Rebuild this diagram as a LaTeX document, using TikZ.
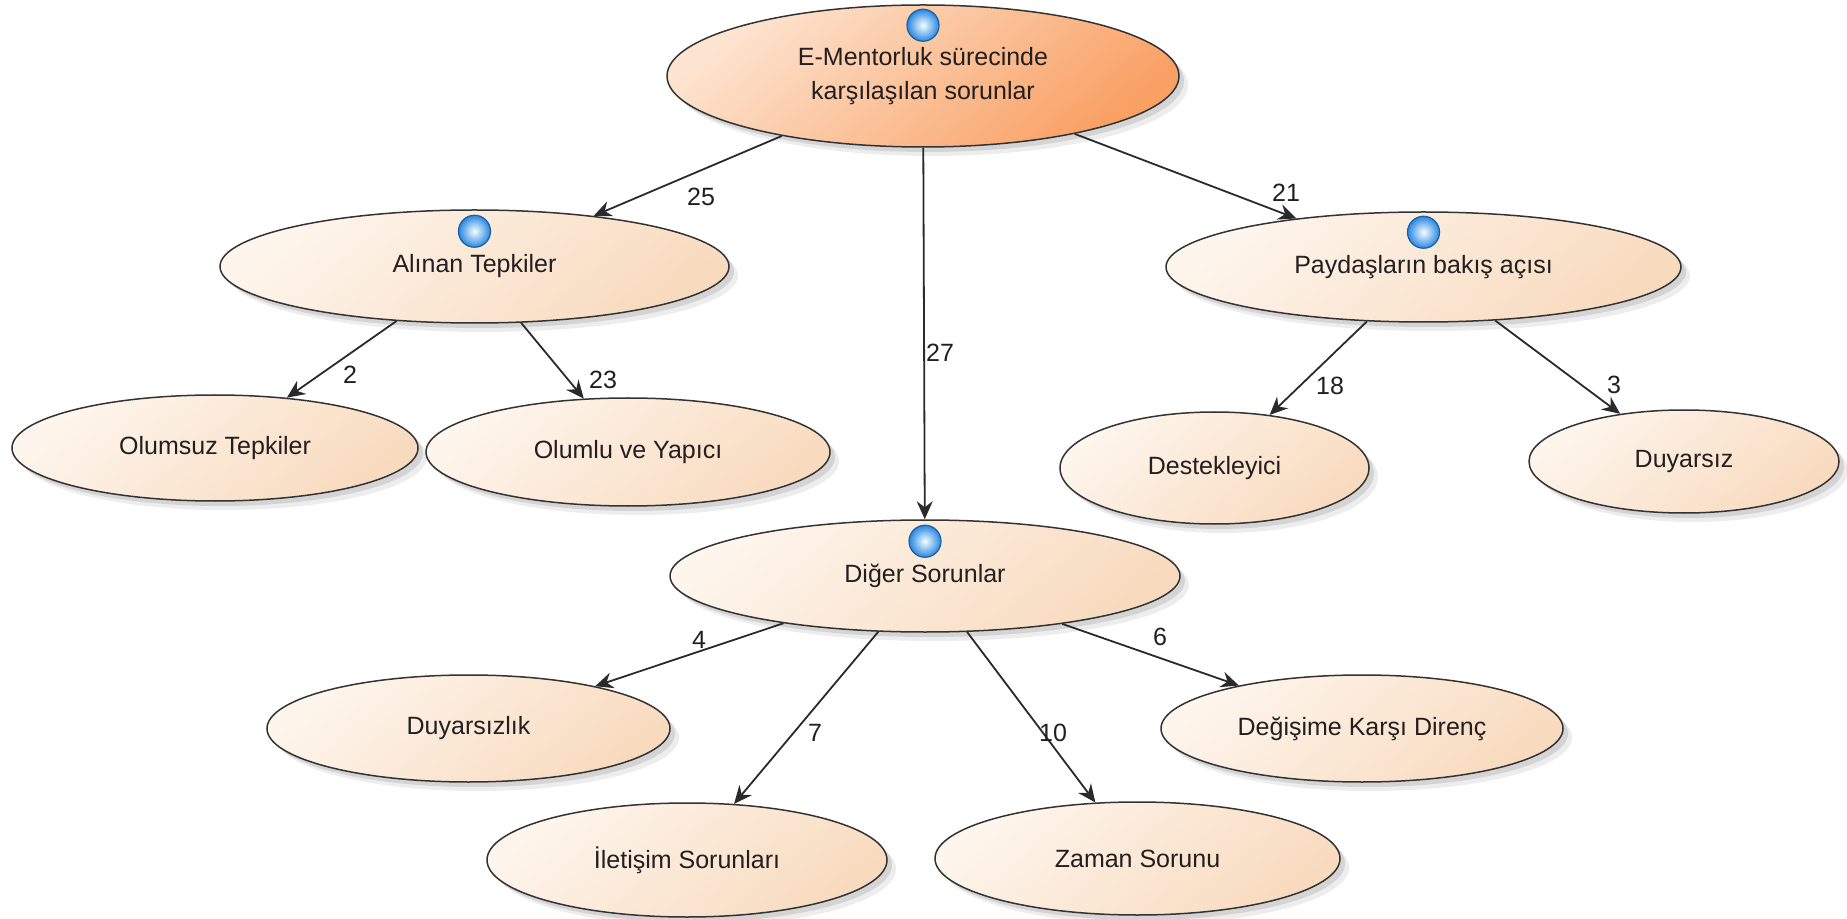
\documentclass[tikz,border=0pt]{standalone}
\usepackage{fontspec}
\setmainfont{Liberation Sans}
\usetikzlibrary{shapes.geometric,arrows.meta,shadows}

\definecolor{rootlight}{HTML}{FDE4D0}
\definecolor{rootdark}{HTML}{F9A064}
\definecolor{leaflight}{HTML}{FEF5EC}
\definecolor{leafdark}{HTML}{F8DBBF}
\definecolor{ink}{HTML}{231E20}
\definecolor{ballblue}{HTML}{2A86E2}
\definecolor{wire}{HTML}{2A2A2A}

\tikzset{
  bubble/.style={ellipse, draw=black!80, line width=0.75pt, inner sep=0pt,
    font=\fontsize{12.5}{17}\selectfont, text=ink, align=center,
    top color=leaflight, bottom color=leafdark, shading angle=40,
    drop shadow={shadow xshift=2.5pt, shadow yshift=-2.5pt, opacity=0.10, fill=black},
    drop shadow={shadow xshift=4.5pt, shadow yshift=-4.5pt, opacity=0.07, fill=black}},
  rootbubble/.style={bubble, top color=rootlight, bottom color=rootdark, shading angle=40},
  wh/.style 2 args={minimum width=#1, minimum height=#2},
  knob/.style={circle, inner sep=0pt, minimum size=16pt, draw=ballblue!70!black, line width=0.6pt,
    inner color=cyan!4, outer color=ballblue},
  link/.style={draw=wire, line width=0.9pt, -{Stealth[length=9pt,width=8pt,inset=3pt]}},
  count/.style={font=\fontsize{12.5}{14}\selectfont, text=ink, inner sep=0pt}
}

\begin{document}
\begin{tikzpicture}[x=0.5pt,y=-0.5pt]
  % canvas
  \useasboundingbox[fill=white] (0,0) rectangle (1847,919);

  % top level
  \node[rootbubble, wh={256pt}{71pt}] (root) at (923,76)
    {E-Mentorluk sürecinde\\karşılaşılan sorunlar};

  % second level
  \node[bubble, wh={254.5pt}{56.5pt}] (alinan) at (474.5,266.5) {Alınan Tepkiler};
  \node[bubble, wh={257.5pt}{55pt}] (paydas) at (1423.5,267) {Paydaşların bakış açısı};
  \node[bubble, wh={255pt}{56pt}] (diger) at (925,576) {Diğer Sorunlar};

  % leaves
  \node[bubble, wh={203pt}{53pt}] (olumsuz) at (215,448) {Olumsuz Tepkiler};
  \node[bubble, wh={202pt}{54pt}] (olumlu) at (628,452) {Olumlu ve Yapıcı};
  \node[bubble, wh={154.5pt}{56pt}] (destek) at (1214.5,468) {Destekleyici};
  \node[bubble, wh={155pt}{51.5pt}] (duyarsiz) at (1684,461.5) {Duyarsız};
  \node[bubble, wh={201.5pt}{53.5pt}] (duyarsizlik) at (468.5,728.5) {Duyarsızlık};
  \node[bubble, wh={200pt}{57pt}] (iletisim) at (687,860) {İletişim Sorunları};
  \node[bubble, wh={202.5pt}{56.5pt}] (zaman) at (1137.5,858.5) {Zaman Sorunu};
  \node[bubble, wh={201pt}{53.5pt}] (direnc) at (1362,728.5) {Değişime Karşı Direnç};

  % blue markers on the group nodes
  \node[knob] (kroot) at ([yshift=-10.5pt]root.north) {};
  \node[knob] (kalinan) at ([yshift=-11pt]alinan.north) {};
  \node[knob] (kpaydas) at ([yshift=-10.5pt]paydas.north) {};
  \node[knob] (kdiger) at ([yshift=-11pt]diger.north) {};

  % connectors
  \draw[link] (root) -- (alinan);
  \draw[link] (root) -- (paydas);
  \draw[link] (root) -- (diger);
  \draw[link] (alinan) -- (olumsuz);
  \draw[link] (alinan) -- (olumlu);
  \draw[link] (paydas) -- (destek);
  \draw[link] (paydas) -- (duyarsiz);
  \draw[link] (diger) -- (duyarsizlik);
  \draw[link] (diger) -- (iletisim);
  \draw[link] (diger) -- (zaman);
  \draw[link] (diger) -- (direnc);

  % counts
  \node[count] (n25) at (701,197) {25};
  \node[count] (n21) at (1286,193) {21};
  \node[count] (n27) at (940,353) {27};
  \node[count] (n2) at (350,375) {2};
  \node[count] (n23) at (603,380) {23};
  \node[count] (n18) at (1330,386) {18};
  \node[count] (n3) at (1614,385) {3};
  \node[count] (n4) at (699,640) {4};
  \node[count] (n6) at (1160,637) {6};
  \node[count] (n7) at (815,733) {7};
  \node[count] (n10) at (1053,733) {10};
\end{tikzpicture}
\end{document}
